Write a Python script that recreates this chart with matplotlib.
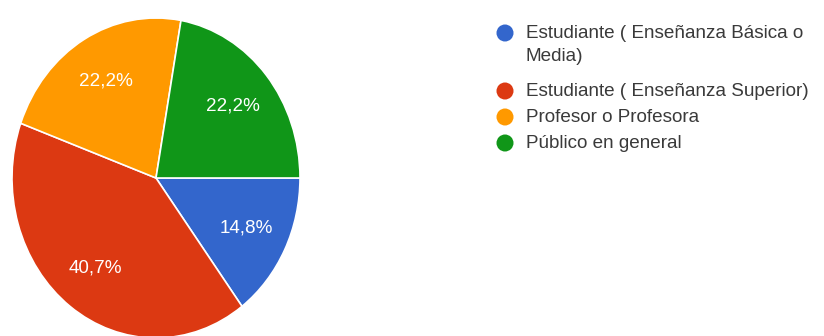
import matplotlib.pyplot as plt

plt.rcParams['font.family'] = ['Liberation Sans', 'DejaVu Sans']

# data
categories = ['Estudiante ( Enseñanza Básica o\nMedia)',
              'Estudiante ( Enseñanza Superior)',
              'Profesor o Profesora',
              'Público en general']
counts = [4, 11, 6, 6]
colors = ['#3366CC', '#DC3912', '#FF9900', '#109618']

fig = plt.figure(figsize=(8.24, 3.36), dpi=100)

# pie (the source is a little stretched vertically, so aspect stays free)
ax = fig.add_axes([12 / 824, -2 / 336, 288 / 824, 320 / 336])
wedges, texts, autotexts = ax.pie(
    counts, colors=colors, startangle=0, counterclock=False,
    autopct=lambda p: f'{p:.1f}%'.replace('.', ','), pctdistance=0.7,
    wedgeprops=dict(edgecolor='white', linewidth=1.2),
    textprops=dict(color='white', fontsize=13.6))
ax.set_aspect('auto')
ax.set_xlim(-1, 1)
ax.set_ylim(-1, 1)

# legend drawn by hand so the wrapped label keeps its dot on the first line
lg = fig.add_axes([0, 0, 1, 1])
lg.set_xlim(0, 824)
lg.set_ylim(336, 0)
lg.axis('off')
rows = [33, 91, 117, 143]
for y, lab, c in zip(rows, categories, colors):
    lg.scatter(505, y, s=150, color=c, edgecolors='none')
    t = lg.text(526, y - 8, lab, fontsize=13.6, color='#3a3a3a', va='top', ha='left')
    t.set_linespacing(1.45)

fig.savefig('out.png', dpi=100)
